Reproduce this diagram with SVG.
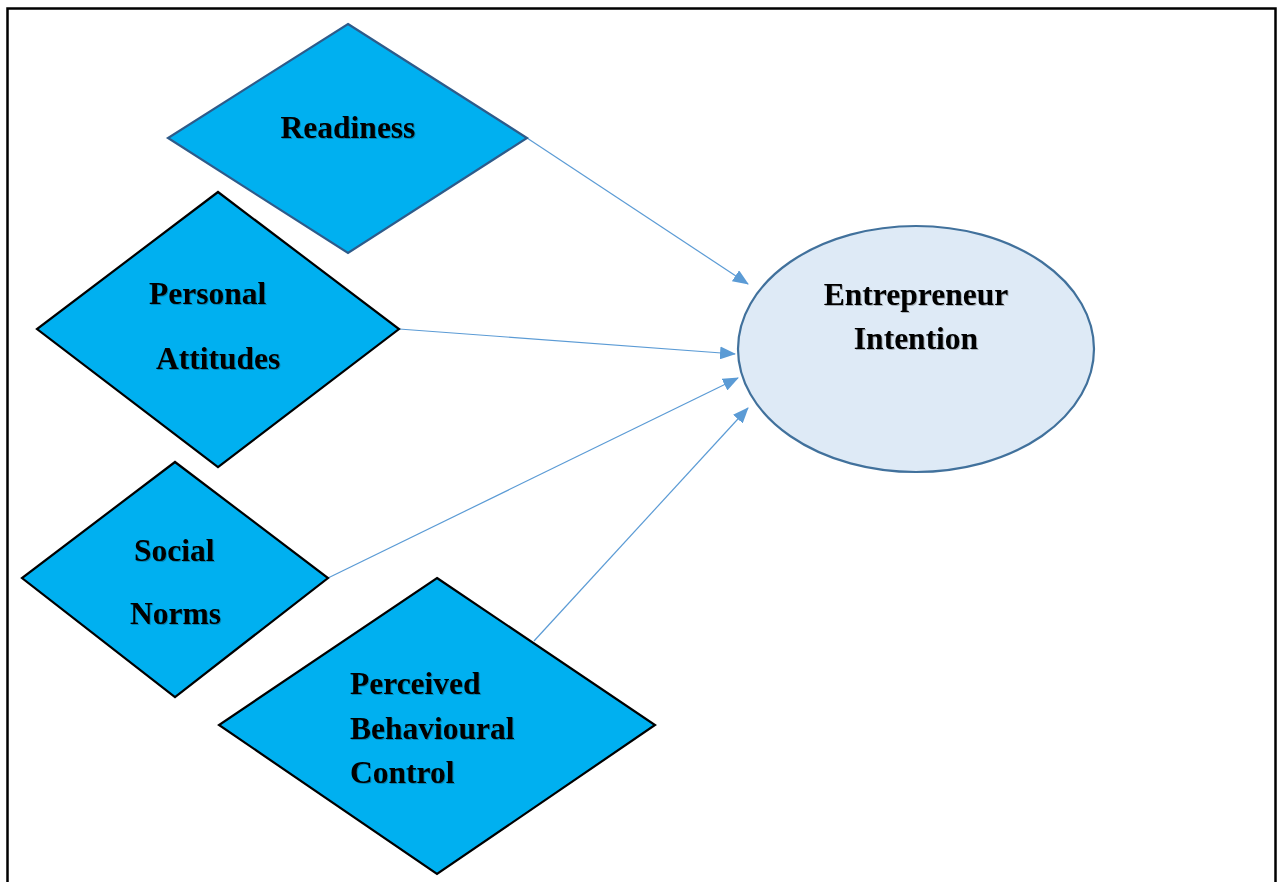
<svg xmlns="http://www.w3.org/2000/svg" width="1279" height="882" viewBox="0 0 1279 882">
<defs>
<style>
.dia{fill:#00b0f0;stroke:#000;stroke-width:2.2}
.dia2{fill:#00b0f0;stroke:#2e5b8a;stroke-width:2.2}
.lbl{font-family:"Liberation Serif","Times New Roman",serif;font-weight:bold;font-size:31.5px;fill:#000;filter:url(#sh)}
.con{stroke:#5b9bd5;stroke-width:1.2;fill:none;marker-end:url(#ah)}
</style>
<marker id="ah" markerWidth="16" markerHeight="13" refX="15" refY="6.5" orient="auto" markerUnits="userSpaceOnUse">
<path d="M0,0 L16,6.5 L0,13 Z" fill="#5b9bd5"/>
</marker>
<filter id="sh" x="-10%" y="-20%" width="130%" height="150%">
<feDropShadow dx="1" dy="1" stdDeviation="0.7" flood-color="#000" flood-opacity="0.25"/>
</filter>
</defs>
<rect x="0" y="0" width="1279" height="882" fill="#fff"/>
<rect x="7.5" y="8.5" width="1268" height="900" fill="none" stroke="#000" stroke-width="2.5"/>
<g id="connectors">
<line class="con" x1="527" y1="138" x2="748" y2="284"/>
<line class="con" x1="399" y1="329" x2="735" y2="354"/>
<line class="con" x1="328" y1="578" x2="738" y2="378"/>
<line class="con" x1="534" y1="641" x2="748" y2="408"/>
</g>
<g id="readiness">
<polygon class="dia2" points="348,24 527,138 348,253 168,138"/>
<text class="lbl" x="348" y="138" text-anchor="middle">Readiness</text>
</g>
<g id="personal-attitudes">
<polygon class="dia" points="218,192 399,329 218,467 37,329"/>
<text class="lbl" x="149" y="304">Personal</text>
<text class="lbl" x="156" y="369">Attitudes</text>
</g>
<g id="social-norms">
<polygon class="dia" points="175,462 328,578 175,697 22,578"/>
<text class="lbl" x="134" y="561">Social</text>
<text class="lbl" x="130" y="624">Norms</text>
</g>
<g id="perceived-behavioural-control">
<polygon class="dia" points="437,578 655,725 437,874 219,725"/>
<text class="lbl" x="350" y="694">Perceived</text>
<text class="lbl" x="350" y="739">Behavioural</text>
<text class="lbl" x="350" y="783">Control</text>
</g>
<g id="entrepreneur-intention">
<ellipse cx="916" cy="349" rx="178" ry="123" fill="#deeaf6" stroke="#41719c" stroke-width="2.2"/>
<text class="lbl" x="916" y="305" text-anchor="middle">Entrepreneur</text>
<text class="lbl" x="916" y="349" text-anchor="middle">Intention</text>
</g>
</svg>
